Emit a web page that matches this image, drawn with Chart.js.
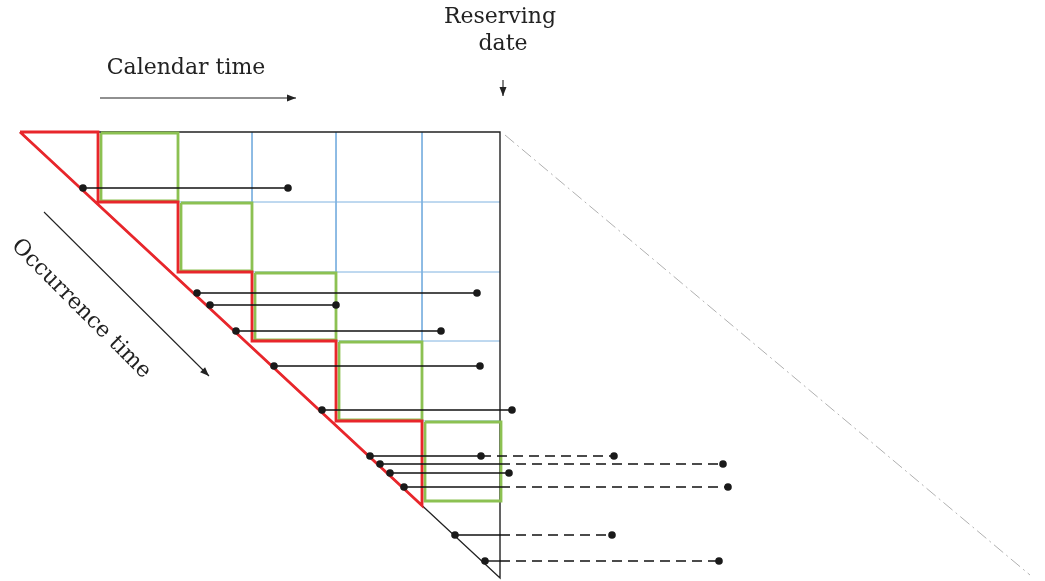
<!DOCTYPE html>
<html lang="en">
<head>
  <meta charset="UTF-8" />
  <title>Reserving triangle</title>
  <script src="https://cdn.jsdelivr.net/npm/chart.js"></script>
  <style>
    body { margin: 0; background: #fff; }
    #wrap { width: 1045px; height: 581px; position: relative; }
  </style>
</head>
<body>
  <div id="wrap"><canvas id="diagrama"></canvas></div>

  <script>
    // diagram coordinates (x right, y down)
    const triStart = [20, 132];
    const triEnd = [500, 578];
    const reservingX = 500;
    const futureLine = [[505, 135], [1030, 575]];

    // staircase of the development periods
    const stepX = [98, 178, 252, 336, 422];
    const stepY = [132, 202, 272, 341, 421];
    const lastEdge = [501, 501];

    // claims: occurrence point, row, end of the known part, end of the future part
    const claimX    = [83, 197, 210, 236, 274, 322, 370, 380, 390, 404, 455, 485];
    const claimY    = [188, 293, 305, 331, 366, 410, 456, 464, 473, 487, 535, 561];
    const solidEnd  = [288, 477, 336, 441, 480, 512, 481, 500, 509, 500, 500, 500];
    const futureEnd = [null, null, null, null, null, null, 614, 723, null, 728, 612, 719];
    const extraDots = [[481, 456]];

    // labels and arrows
    const labels = [
      { text: 'Calendar time', x: 186, y: 68, rot: 0 },
      { text: 'Reserving', x: 500, y: 17, rot: 0 },
      { text: 'date', x: 503, y: 44, rot: 0 },
      { text: 'Occurrence time', x: 81, y: 309, rot: 45 }
    ];
    const arrows = [
      [[100, 98], [296, 98]],
      [[503, 80], [503, 96]],
      [[44, 212], [209, 376]]
    ];

    const diag = x => triStart[1] + (x - triStart[0]) * (triEnd[1] - triStart[1]) / (triEnd[0] - triStart[0]);
    const pt = (x, y) => ({ x: x, y: y });

    const datasets = [];
    function linea(points, color, width, dash) {
      datasets.push({
        type: 'scatter',
        data: points.map(p => pt(p[0], p[1])),
        showLine: true,
        borderColor: color,
        borderWidth: width,
        borderDash: dash || [],
        pointRadius: 0,
        fill: false
      });
    }

    // blue grid
    for (let i = 1; i < stepX.length; i++) {
      linea([[stepX[i], triStart[1]], [stepX[i], stepY[i]]], '#7fb2e0', 1);
      linea([[stepX[i], stepY[i]], [reservingX, stepY[i]]], '#7fb2e0', 1);
    }

    // triangle and future line
    linea([triStart, [reservingX, triStart[1]], [reservingX, triEnd[1]], triEnd, triStart], '#222', 1.4);
    linea(futureLine, '#b0b0b0', 1, [12, 4, 2, 4]);

    // green boxes
    for (let i = 0; i < stepX.length; i++) {
      const x0 = stepX[i] + 3, y0 = stepY[i] + 1;
      const x1 = i < stepX.length - 1 ? stepX[i + 1] : lastEdge[0];
      const y1 = i < stepY.length - 1 ? stepY[i + 1] - 1 : lastEdge[1];
      linea([[x0, y0], [x1, y0], [x1, y1], [x0, y1], [x0, y0]], '#8cc152', 2.8);
    }

    // red staircase
    const red = [triStart];
    for (let i = 0; i < stepX.length; i++) {
      red.push([stepX[i], stepY[i]]);
      red.push([stepX[i], i < stepY.length - 1 ? stepY[i + 1] : diag(stepX[i])]);
      if (i < stepX.length - 1) red.push([stepX[i + 1], stepY[i + 1]]);
    }
    red.push(triStart);
    linea(red, '#e8262b', 2.8);

    // claims
    const dots = [];
    for (let i = 0; i < claimX.length; i++) {
      linea([[claimX[i], claimY[i]], [solidEnd[i], claimY[i]]], '#111', 1.4);
      dots.push(pt(claimX[i], claimY[i]));
      if (futureEnd[i] !== null) {
        linea([[solidEnd[i], claimY[i]], [futureEnd[i], claimY[i]]], '#111', 1.4, [10, 6]);
        dots.push(pt(futureEnd[i], claimY[i]));
      } else {
        dots.push(pt(solidEnd[i], claimY[i]));
      }
    }
    extraDots.forEach(d => dots.push(pt(d[0], d[1])));

    // arrows shafts
    arrows.forEach(a => linea(a, '#222', 1.1));

    datasets.push({
      type: 'scatter',
      data: dots,
      pointRadius: 3.8,
      pointBackgroundColor: '#1a1a1a',
      pointBorderWidth: 0,
      showLine: false
    });

    // Chart.js paints the first dataset last, so flip to keep the layering above
    datasets.reverse();

    const extras = {
      id: 'extras',
      afterDatasetsDraw(chart) {
        const ctx = chart.ctx;
        const sx = chart.scales.x, sy = chart.scales.y;
        ctx.save();
        ctx.fillStyle = '#222';
        arrows.forEach(a => {
          const x0 = sx.getPixelForValue(a[0][0]), y0 = sy.getPixelForValue(a[0][1]);
          const x1 = sx.getPixelForValue(a[1][0]), y1 = sy.getPixelForValue(a[1][1]);
          const ang = Math.atan2(y1 - y0, x1 - x0);
          ctx.save();
          ctx.translate(x1, y1);
          ctx.rotate(ang);
          ctx.beginPath();
          ctx.moveTo(0, 0);
          ctx.lineTo(-9, -3.5);
          ctx.lineTo(-9, 3.5);
          ctx.closePath();
          ctx.fill();
          ctx.restore();
        });
        ctx.font = '22px "DejaVu Serif", serif';
        ctx.textAlign = 'center';
        ctx.textBaseline = 'middle';
        labels.forEach(l => {
          ctx.save();
          ctx.translate(sx.getPixelForValue(l.x), sy.getPixelForValue(l.y));
          ctx.rotate(l.rot * Math.PI / 180);
          ctx.fillText(l.text, 0, 0);
          ctx.restore();
        });
        ctx.restore();
      }
    };

    new Chart(document.getElementById('diagrama'), {
      type: 'scatter',
      data: { datasets: datasets },
      options: {
        responsive: true,
        maintainAspectRatio: false,
        animation: false,
        layout: { padding: 0, autoPadding: false },
        plugins: { legend: { display: false }, tooltip: { enabled: false } },
        scales: {
          x: { type: 'linear', min: 0, max: 1045, display: false },
          y: { type: 'linear', min: 0, max: 581, reverse: true, display: false }
        }
      },
      plugins: [extras]
    });
  </script>
</body>
</html>
